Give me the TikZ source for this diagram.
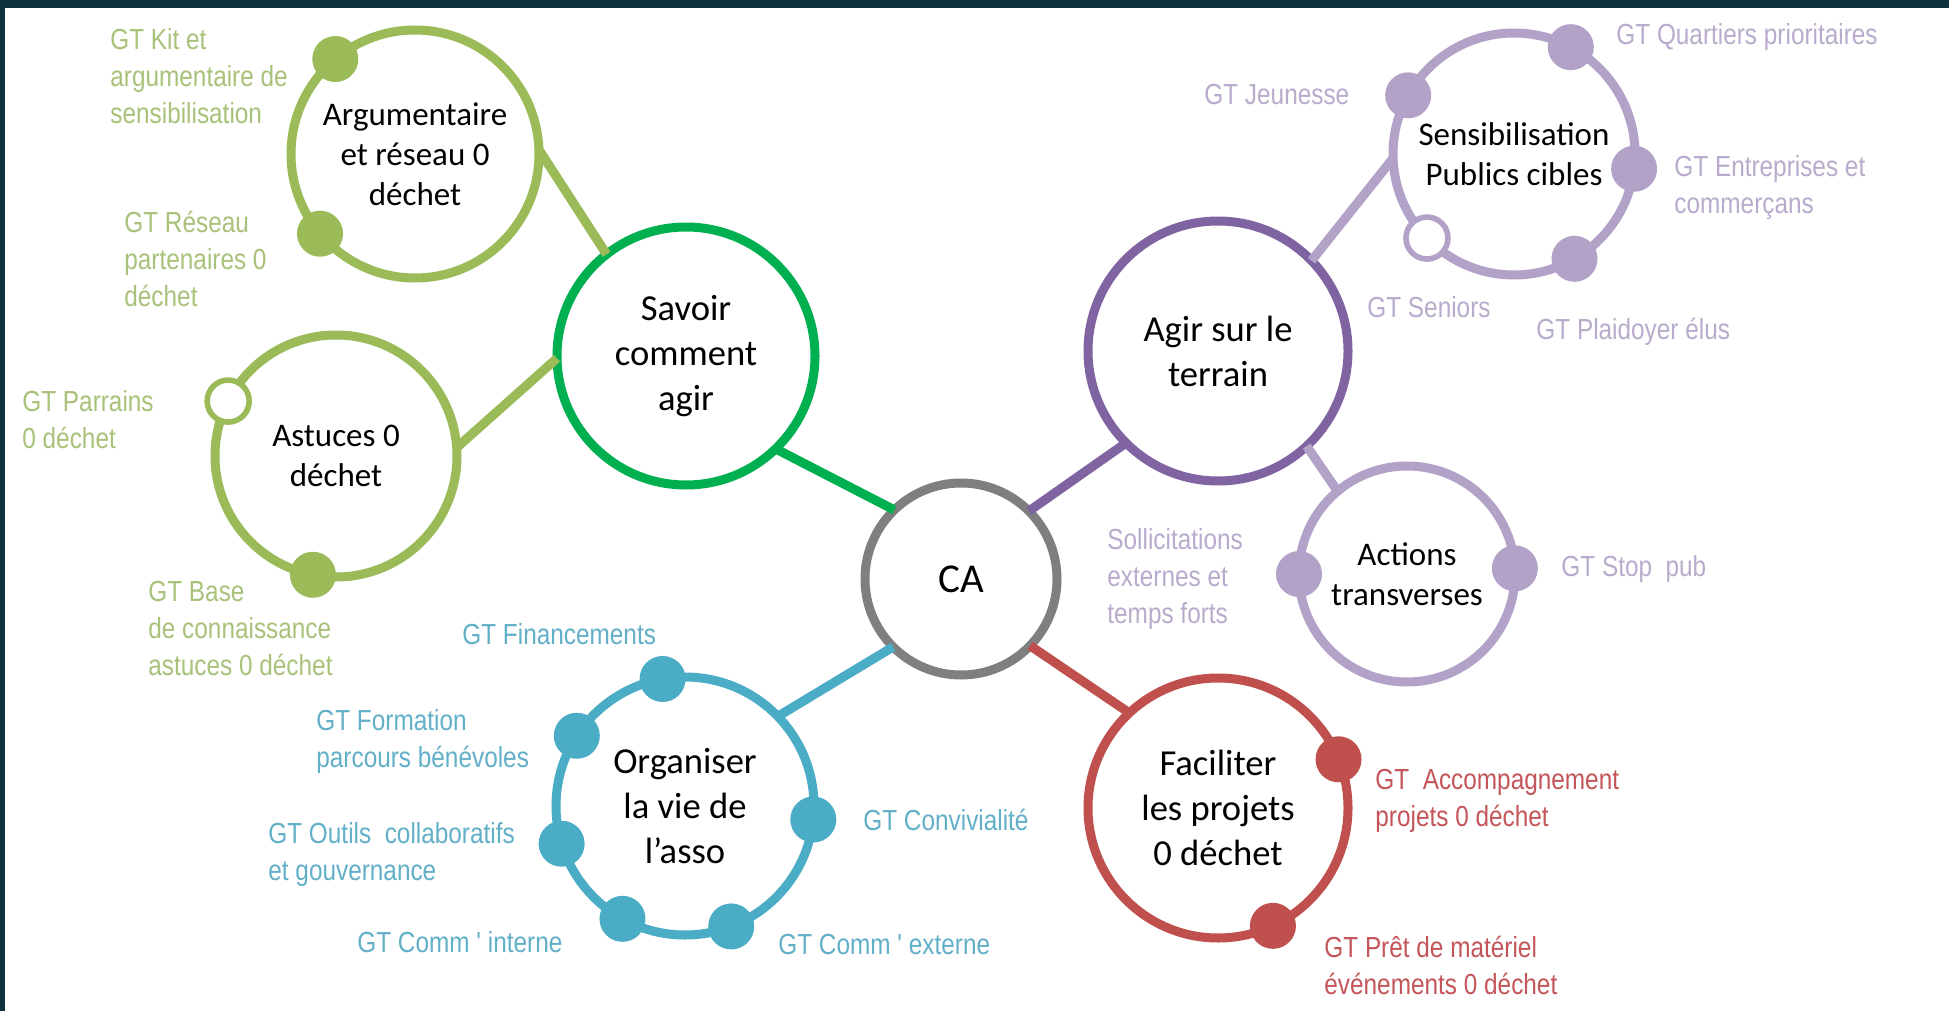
\documentclass[tikz,border=0pt]{standalone}
\usepackage{fontspec}
\newfontfamily\calib{Carlito}
\newfontfamily\narrow[FakeStretch=0.84]{Liberation Sans}
\definecolor{lgreen}{HTML}{9BBB59}
\definecolor{lgreentxt}{HTML}{A8C27A}
\definecolor{dgreen}{HTML}{00B050}
\definecolor{cagray}{HTML}{7F7F7F}
\definecolor{purp}{HTML}{8064A2}
\definecolor{lpurp}{HTML}{B3A2C7}
\definecolor{lpurptxt}{HTML}{B9ABCB}
\definecolor{blu}{HTML}{4BACC6}
\definecolor{blutxt}{HTML}{62AFC8}
\definecolor{redd}{HTML}{C0504D}
\definecolor{reddtxt}{HTML}{C4555A}
\definecolor{framecol}{HTML}{0D3340}
\tikzset{
 bigc/.style={circle, draw, fill=white, line width=4.5pt, inner sep=0pt, outer sep=0pt, align=center, text=black, font=\calib\fontsize{18.3}{22.5}\selectfont},
 subc/.style={circle, draw, fill=white, line width=4.5pt, inner sep=0pt, outer sep=0pt, align=center, text=black, font=\calib\fontsize{16.5}{20}\selectfont},
 dotf/.style={circle, fill, inner sep=0pt, minimum size=23pt},
 doto/.style={circle, draw, fill=white, line width=2.8pt, inner sep=0pt, minimum size=21pt},
 lbl/.style={anchor=west, align=left, inner sep=0pt, font=\narrow\fontsize{14.5}{18.5}\selectfont},
 conn/.style={line width=4.6pt},
}
\begin{document}
\begin{tikzpicture}[x=0.5pt, y=-0.5pt]
\useasboundingbox (0,0) rectangle (1949,1011);
\fill[white] (0,0) rectangle (1949,1011);
\fill[framecol] (0,0) rectangle (1949,8);
\fill[framecol] (0,0) rectangle (5,1011);

% main circles
\node[bigc, draw=cagray, minimum size=96pt, font=\calib\fontsize{20.5}{24}\selectfont] (ca) at (961,579) {CA};
\node[bigc, draw=dgreen, minimum size=129pt] (savoir) at (686,356) {Savoir\\comment\\agir};
\node[bigc, draw=purp, minimum size=130pt] (agir) at (1218,351) {Agir sur le\\terrain};
\node[bigc, draw=blu, minimum size=129pt] (org) at (685,806) {Organiser\\la vie de\\l’asso};
\node[bigc, draw=redd, minimum size=130pt] (fac) at (1218,808) {Faciliter\\les projets\\0 déchet};

% sub circles
\node[subc, draw=lgreen, minimum size=124pt] (arg) at (415,154) {Argumentaire\\et réseau 0\\déchet};
\node[subc, draw=lgreen, minimum size=121pt] (ast) at (336,456) {Astuces 0\\déchet};
\node[subc, draw=lpurp, minimum size=121pt] (sens) at (1514,154) {Sensibilisation\\Publics cibles};
\node[subc, draw=lpurp, minimum size=108pt] (act) at (1407,574) {Actions\\transverses};

% connectors
\draw[conn, dgreen] (ca.134) -- (savoir.314);
\draw[conn, purp] (ca.45) -- (agir.225);
\draw[conn, blu] (ca.225) -- (org.44);
\draw[conn, redd] (ca.316) -- (fac.133);
\draw[conn, lgreen] (savoir.128) -- (arg.2);
\draw[conn, lgreen] (savoir.181) -- (ast.4);
\draw[conn, lpurp] (agir.44) -- (sens.182);
\draw[conn, lpurp] (agir.313) -- (act.130);

% dots
\node[dotf, lgreen] (da1) at (arg.130) {};
\node[dotf, lgreen] (da2) at (arg.220) {};
\node[doto, draw=lgreen] (db1) at (ast.153) {};
\node[dotf, lgreen] (db2) at (ast.259) {};
\node[dotf, lpurp] (ds1) at (sens.151) {};
\node[dotf, lpurp] (ds2) at (sens.62) {};
\node[dotf, lpurp] (ds3) at (sens.353) {};
\node[doto, draw=lpurp] (ds4) at (sens.224) {};
\node[dotf, lpurp] (ds5) at (sens.300) {};
\node[dotf, lpurp] (dt1) at (act.180) {};
\node[dotf, lpurp] (dt2) at (act.3) {};
\node[dotf, redd] (df1) at (fac.22) {};
\node[dotf, redd] (df2) at (fac.295) {};
\node[dotf, blu] (do1) at (org.100) {};
\node[dotf, blu] (do2) at (org.147) {};
\node[dotf, blu] (do3) at (org.197) {};
\node[dotf, blu] (do4) at (org.241) {};
\node[dotf, blu] (do5) at (org.291) {};
\node[dotf, blu] (do6) at (org.354) {};

% labels green
\node[lbl, lgreentxt] (l1) at (110,76) {GT Kit et\\argumentaire de\\sensibilisation};
\node[lbl, lgreentxt] (l2) at (124,259) {GT Réseau\\partenaires 0\\déchet};
\node[lbl, lgreentxt] (l3) at (22,420) {GT Parrains\\0 déchet};
\node[lbl, lgreentxt] (l4) at (148,629) {GT Base\\de connaissance\\astuces 0 déchet};
% labels blue
\node[lbl, blutxt] (l5) at (462,634) {GT Financements};
\node[lbl, blutxt] (l6) at (316,741) {GT Formation\\parcours bénévoles};
\node[lbl, blutxt] (l7) at (268,854) {GT Outils\ \ collaboratifs\\et gouvernance};
\node[lbl, blutxt] (l8) at (357,942) {GT Comm ' interne};
\node[lbl, blutxt] (l9) at (778,945) {GT Comm ' externe};
\node[lbl, blutxt] (l10) at (863,820) {GT Convivialité};
% labels purple
\node[lbl, lpurptxt] (l11) at (1204,95) {GT Jeunesse};
\node[lbl, lpurptxt] (l12) at (1616,37) {GT Quartiers prioritaires};
\node[lbl, lpurptxt] (l13) at (1674,188) {GT Entreprises et\\commerçans};
\node[lbl, lpurptxt] (l14) at (1367,307) {GT Seniors};
\node[lbl, lpurptxt] (l15) at (1536,332) {GT Plaidoyer élus};
\node[lbl, lpurptxt] (l16) at (1107,579) {Sollicitations\\externes et\\temps forts};
\node[lbl, lpurptxt] (l17) at (1561,569) {GT Stop\ \ pub};
% labels red
\node[lbl, reddtxt] (l18) at (1375,801) {GT\ \ Accompagnement\\projets 0 déchet};
\node[lbl, reddtxt] (l19) at (1324,965) {GT Prêt de matériel\\événements 0 déchet};
\end{tikzpicture}
\end{document}
